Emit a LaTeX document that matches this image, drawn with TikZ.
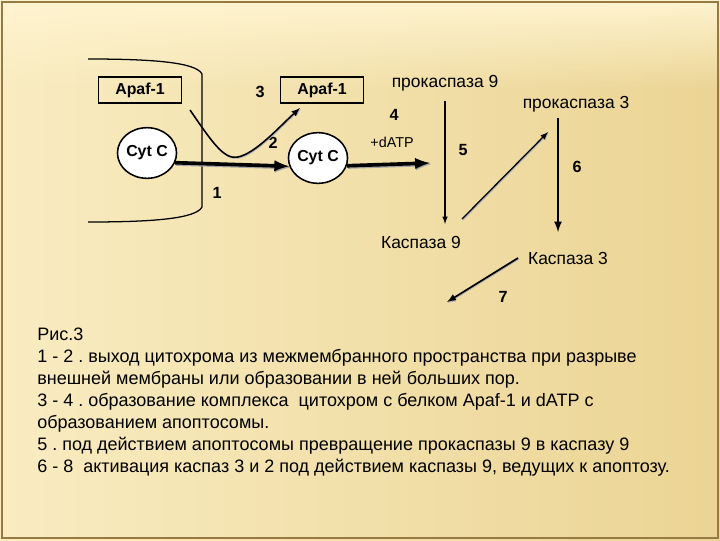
\documentclass[tikz,border=0pt]{standalone}
\usepackage{fontspec}
\setmainfont{Liberation Sans}
\usetikzlibrary{shapes.geometric,fadings}
\definecolor{paperL}{RGB}{249,236,193}
\definecolor{paperR}{RGB}{235,212,148}
\definecolor{paperT}{RGB}{255,244,208}
\definecolor{rim}{RGB}{150,122,65}
\frenchspacing

\begin{document}
\begin{tikzpicture}[x=0.025cm,y=-0.025cm,
    lbl/.style={font=\fontsize{12.4}{14}\selectfont},
    num/.style={font=\bfseries\fontsize{11.5}{13}\selectfont},
    prot/.style={draw,line width=1.1pt,font=\bfseries\fontsize{11.3}{13}\selectfont,minimum width=59pt,minimum height=18.5pt},
    cyt/.style={draw,ellipse,fill=white,line width=1.1pt,font=\bfseries\fontsize{11.3}{13}\selectfont,minimum width=42pt,minimum height=36pt,inner sep=0pt},
    fat/.style={-latex,line width=2.6pt,preaction={draw,gray!70,line width=2.6pt,transform canvas={shift={(0.6pt,-0.9pt)}}}},
    slim/.style={-latex,line width=0.9pt,preaction={draw,gray!60,line width=0.9pt,transform canvas={shift={(0.5pt,-0.7pt)}}}}]
        % background
        \fill[left color=paperL,right color=paperR] (0,0) rectangle (720,540);
        \fill[paperT,path fading=south] (0,0) rectangle (720,90);
        \draw[rim,line width=0.8pt] (2,2) rectangle (718,538);
        % membrane
        \draw[line width=0.9pt] (88,59) .. controls (150,59) and (196,62) .. (202,74) -- (202,207) .. controls (196,219) and (150,222) .. (88,222);
        % proteins
        \node[prot] (apafL) at (140,90) {Apaf-1};
        \node[prot] (apafR) at (322,90) {Apaf-1};
        \node[cyt] (cytL) at (147,153) {Cyt C};
        \node[cyt] (cytR) at (318,158) {Cyt C};
        \node[lbl] (pk9) at (445,83) {прокаспаза 9};
        \node[lbl] (pk3) at (576,104) {прокаспаза 3};
        \node[lbl] (ksp9) at (421,242) {Каспаза 9};
        \node[lbl] (ksp3) at (568,258) {Каспаза 3};
        \node[font=\fontsize{10.2}{12}\selectfont] (datp) at (392,142) {+dATP};
        % step numbers
        \node[num] (n1) at (217,193) {1};
        \node[num] (n2) at (273,143) {2};
        \node[num] (n3) at (260,92) {3};
        \node[num] (n4) at (394,115) {4};
        \node[num] (n5) at (463,150) {5};
        \node[num] (n6) at (577,167) {6};
        \node[num] (n7) at (503,297) {7};
        % free ends
        \coordinate (bendS) at (190,110);
        \coordinate (bendE) at (300,108);
        \coordinate (datpE) at (430,163);
        \coordinate (k9up) at (462,219);
        \coordinate (pk3lo) at (548,132);
        \coordinate (pk3dn) at (558,118);
        \coordinate (k3up) at (558,232);
        \coordinate (k3lf) at (518,258);
        \coordinate (apop) at (447,302);
        % arrows
        \draw[slim,line width=1.1pt] (bendS) .. controls (212,142) and (224,160) .. (238,157) .. controls (256,153) and (278,128) .. (bendE);
        \draw[fat] (cytL.-19) -- (cytR.196);
        \draw[fat] (cytR.-15) -- (datpE);
        \draw[-latex,line width=0.8pt,shorten <=4pt,shorten >=5pt] (pk9) -- (pk9 |- ksp9.north);
        \draw[slim] (k9up) -- (pk3lo);
        \draw[-latex,line width=1.5pt] (pk3dn) -- (k3up);
        \draw[slim,line width=1.2pt] (k3lf) -- (apop);
        % caption
        \node[anchor=north west,align=left,inner sep=0pt,font=\fontsize{12.8}{15.6}\selectfont] (caption) at (37,328) {Рис.3\\
1 - 2 . выход цитохрома из межмембранного пространства при разрыве\\
внешней мембраны или образовании в ней больших пор.\\
3 - 4 . образование комплекса~ цитохром с белком Apaf-1 и dATP с\\
образованием апоптосомы.\\
5 . под действием апоптосомы превращение прокаспазы 9 в каспазу 9\\
6 - 8~ активация каспаз 3 и 2 под действием каспазы 9, ведущих к апоптозу.};
\end{tikzpicture}
\end{document}
